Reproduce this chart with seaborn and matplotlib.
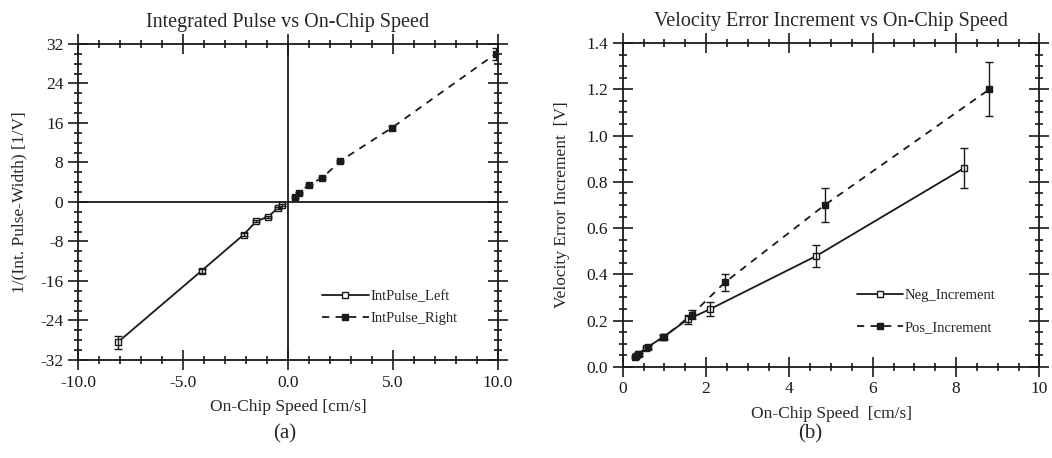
import numpy as np
import seaborn as sns
import matplotlib.pyplot as plt
from matplotlib.ticker import MultipleLocator, FormatStrFormatter

# panel (a): integrated pulse
left_x = [-8.1, -4.1, -2.1, -1.5, -0.95, -0.48, -0.3]
left_y = [-28.4, -13.9, -6.6, -3.9, -3.0, -1.3, -0.6]
left_err = [1.3, 0.4, 0.3, 0.2, 0.2, 0.2, 0.2]
right_x = [0.33, 0.53, 1.0, 1.65, 2.5, 4.95, 9.9]
right_y = [1.0, 1.8, 3.5, 4.9, 8.3, 15.0, 30.0]
right_err = [0.2, 0.2, 0.2, 0.2, 0.3, 0.4, 1.2]

# panel (b): velocity error increment
neg_x = [0.29, 0.36, 0.55, 0.96, 1.56, 2.1, 4.65, 8.2]
neg_y = [0.043, 0.055, 0.08, 0.128, 0.205, 0.25, 0.48, 0.86]
neg_err = [0.005, 0.005, 0.008, 0.01, 0.02, 0.03, 0.047, 0.087]
pos_x = [0.32, 0.4, 0.6, 1.0, 1.65, 2.45, 4.85, 8.8]
pos_y = [0.045, 0.055, 0.085, 0.13, 0.225, 0.365, 0.70, 1.2]
pos_err = [0.005, 0.006, 0.008, 0.01, 0.02, 0.036, 0.072, 0.117]

sns.set_theme(style="ticks")
plt.rcParams['font.family'] = ['Liberation Serif', 'DejaVu Serif']
plt.rcParams['axes.linewidth'] = 1.3
plt.rcParams['axes.unicode_minus'] = False

fig = plt.figure(figsize=(10.52, 4.58), dpi=100)
ax1 = fig.add_axes([0.0741, 0.214, 0.399, 0.690])
ax2 = fig.add_axes([0.592, 0.199, 0.396, 0.707])


def style_axes(ax):
    ax.tick_params(which='both', direction='inout', top=True, right=True,
                   labelsize=12.5, width=1.2, colors='k')
    ax.tick_params(which='major', length=15, pad=3)
    ax.tick_params(which='minor', length=6)
    for s in ax.spines.values():
        s.set_color('k')


def draw(ax, x, y, err, ls, face, label):
    sns.lineplot(x=x, y=y, ax=ax, color='k', linestyle=ls, linewidth=1.3,
                 marker='s', markersize=5, markerfacecolor=face,
                 markeredgecolor='k', markeredgewidth=1.0, label=label)
    ax.errorbar(x, y, yerr=err, fmt='none', ecolor='k', elinewidth=1.0,
                capsize=3, capthick=1.0)


# ---- (a)
draw(ax1, left_x, left_y, left_err, '-', 'white', 'IntPulse_Left')
draw(ax1, right_x, right_y, right_err, (0, (4, 3.5)), 'k', 'IntPulse_Right')
ax1.axhline(0, color='k', lw=1.3)
ax1.axvline(0, color='k', lw=1.3)
ax1.set_xlim(-10, 10)
ax1.set_ylim(-32, 32)
ax1.xaxis.set_major_locator(MultipleLocator(5))
ax1.xaxis.set_minor_locator(MultipleLocator(1))
ax1.xaxis.set_major_formatter(FormatStrFormatter('%.1f'))
ax1.yaxis.set_major_locator(MultipleLocator(8))
ax1.yaxis.set_minor_locator(MultipleLocator(2))
style_axes(ax1)
ax1.set_title('Integrated Pulse vs On-Chip Speed', fontsize=14.5, pad=12)
ax1.set_xlabel('On-Chip Speed [cm/s]', fontsize=12.5, labelpad=6)
ax1.set_ylabel('1/(Int. Pulse-Width) [1/V]', fontsize=12.5, labelpad=9)
ax1.legend(loc='lower left', bbox_to_anchor=(0.55, 0.07), frameon=False,
           fontsize=10.5, handlelength=3.2, handletextpad=0.1, labelspacing=0.6,
           numpoints=1)

# ---- (b)
draw(ax2, neg_x, neg_y, neg_err, '-', 'white', 'Neg_Increment')
draw(ax2, pos_x, pos_y, pos_err, (0, (4, 3.5)), 'k', 'Pos_Increment')
ax2.set_xlim(0, 10)
ax2.set_ylim(0, 1.4)
ax2.xaxis.set_major_locator(MultipleLocator(2))
ax2.xaxis.set_minor_locator(MultipleLocator(0.5))
ax2.yaxis.set_major_locator(MultipleLocator(0.2))
ax2.yaxis.set_minor_locator(MultipleLocator(0.05))
ax2.yaxis.set_major_formatter(FormatStrFormatter('%.1f'))
style_axes(ax2)
ax2.set_title('Velocity Error Increment vs On-Chip Speed', fontsize=14.5, pad=12)
ax2.set_xlabel('On-Chip Speed  [cm/s]', fontsize=12.5, labelpad=6)
ax2.set_ylabel('Velocity Error Increment  [V]', fontsize=12.5, labelpad=12)
ax2.legend(loc='lower left', bbox_to_anchor=(0.53, 0.06), frameon=False,
           fontsize=10.5, handlelength=3.2, handletextpad=0.1, labelspacing=1.3,
           numpoints=1)

fig.text(0.271, 0.052, '(a)', fontsize=15, ha='center', va='center')
fig.text(0.770, 0.052, '(b)', fontsize=15, ha='center', va='center')

fig.savefig('out.png', dpi=100)
